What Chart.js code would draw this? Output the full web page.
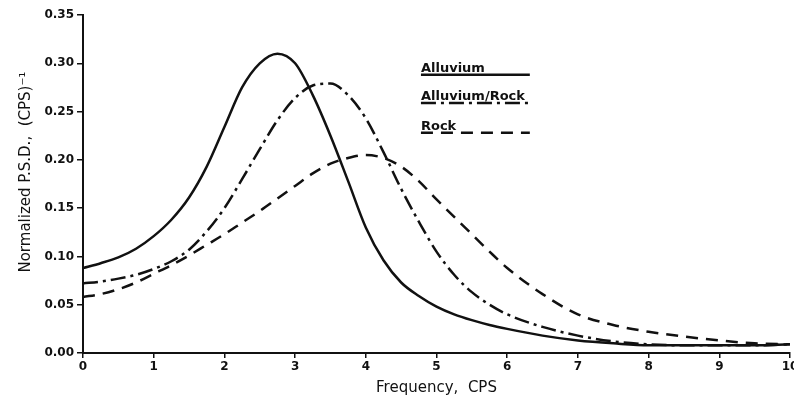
<!DOCTYPE html>
<html>
<head>
<meta charset="utf-8">
<script src="https://cdn.jsdelivr.net/npm/chart.js@4/dist/chart.umd.min.js"></script>
<style>
    html, body { margin: 0; padding: 0; background: #fff; }
</style>
</head>
<body>
<canvas id="psd-chart" width="794" height="400"></canvas>
<script>
// Frequency (CPS) and normalized P.S.D.
const frequency = [0, 0.25, 0.5, 0.75, 1, 1.25, 1.5, 1.75, 2, 2.25, 2.5, 2.75, 3, 3.25, 3.5, 3.75, 4, 4.25, 4.5, 4.75, 5, 5.25, 5.5, 5.75, 6, 6.5, 7, 7.5, 8, 8.5, 9, 9.5, 10];
const alluvium = [0.088, 0.093, 0.099, 0.108, 0.121, 0.138, 0.161, 0.193, 0.234, 0.275, 0.300, 0.310, 0.300, 0.267, 0.225, 0.178, 0.130, 0.096, 0.073, 0.059, 0.048, 0.040, 0.034, 0.029, 0.025, 0.018, 0.013, 0.010, 0.008, 0.008, 0.008, 0.008, 0.009];
const alluviumRock = [0.072, 0.074, 0.077, 0.081, 0.087, 0.095, 0.107, 0.126, 0.150, 0.180, 0.211, 0.241, 0.264, 0.277, 0.279, 0.267, 0.243, 0.208, 0.170, 0.136, 0.105, 0.081, 0.063, 0.050, 0.040, 0.027, 0.018, 0.012, 0.009, 0.008, 0.008, 0.008, 0.009];
const rock = [0.058, 0.061, 0.066, 0.073, 0.082, 0.091, 0.101, 0.112, 0.123, 0.135, 0.147, 0.160, 0.173, 0.186, 0.196, 0.202, 0.205, 0.202, 0.193, 0.178, 0.159, 0.141, 0.123, 0.105, 0.088, 0.061, 0.040, 0.029, 0.022, 0.017, 0.013, 0.010, 0.009];

const seriesNames = ['Alluvium', 'Alluvium/Rock', 'Rock'];
const xTicks = [0, 1, 2, 3, 4, 5, 6, 7, 8, 9, 10];
const yTicks = [0, 0.05, 0.10, 0.15, 0.20, 0.25, 0.30, 0.35];

const INK = '#111';
const dashes = [[], [15, 5, 3, 5], [12, 8]];

function toPoints(values) {
    return values.map((v, i) => ({ x: frequency[i], y: v }));
}

// legend drawn inside the plot, each name sitting on its line sample
const inlineLegend = {
    id: 'inlineLegend',
    afterDatasetsDraw(chart) {
        const ctx = chart.ctx;
        const xs = chart.scales.x;
        const ys = chart.scales.y;
        const x0 = xs.getPixelForValue(4.78);
        const x1 = xs.getPixelForValue(6.32);
        const rows = [0.288, 0.259, 0.228];
        ctx.save();
        ctx.fillStyle = INK;
        ctx.strokeStyle = INK;
        ctx.font = 'bold 13px "DejaVu Sans"';
        ctx.textBaseline = 'alphabetic';
        rows.forEach((v, i) => {
            const y = ys.getPixelForValue(v);
            ctx.fillText(seriesNames[i], x0, y - 3);
            ctx.lineWidth = 2.5;
            ctx.setLineDash(dashes[i]);
            ctx.beginPath();
            ctx.moveTo(x0, y);
            ctx.lineTo(x1, y);
            ctx.stroke();
        });
        ctx.restore();
    }
};

const datasets = [alluvium, alluviumRock, rock].map((values, i) => ({
    label: seriesNames[i],
    data: toPoints(values),
    borderColor: INK,
    borderWidth: 2.5,
    borderDash: dashes[i],
    pointRadius: 0,
    fill: false,
    cubicInterpolationMode: 'monotone'
}));

new Chart(document.getElementById('psd-chart').getContext('2d'), {
    type: 'line',
    data: { datasets: datasets },
    options: {
        responsive: false,
        animation: false,
        layout: { padding: { top: 15, right: 4, left: 0, bottom: 0 } },
        plugins: {
            legend: { display: false },
            tooltip: { enabled: false }
        },
        scales: {
            x: {
                type: 'linear',
                min: 0,
                max: 10,
                afterBuildTicks: scale => { scale.ticks = xTicks.map(v => ({ value: v })); },
                afterFit: scale => {
                    scale.height = 47;
                    scale.paddingLeft = 0;
                    scale.paddingRight = 0;
                },
                border: { display: true, color: INK, width: 2 },
                grid: { drawOnChartArea: false, drawTicks: true, tickLength: 5, color: INK, lineWidth: 1.5 },
                ticks: {
                    color: INK,
                    padding: 2,
                    maxRotation: 0,
                    font: { family: 'DejaVu Sans', size: 12, weight: 'bold' }
                },
                title: {
                    display: true,
                    text: 'Frequency,  CPS',
                    color: INK,
                    padding: { top: 0, bottom: 3 },
                    font: { family: 'DejaVu Sans', size: 15 }
                }
            },
            y: {
                min: 0,
                max: 0.35,
                afterBuildTicks: scale => { scale.ticks = yTicks.map(v => ({ value: v })); },
                afterFit: scale => { scale.width = 83; },
                border: { display: true, color: INK, width: 2 },
                grid: { drawOnChartArea: false, drawTicks: true, tickLength: 6, color: INK, lineWidth: 1.5 },
                ticks: {
                    color: INK,
                    padding: 3,
                    callback: v => v.toFixed(2),
                    font: { family: 'DejaVu Sans', size: 12, weight: 'bold' }
                },
                title: {
                    display: true,
                    text: '     Normalized P.S.D.,  (CPS)\u207B\u00B9',
                    color: INK,
                    padding: { top: 17, bottom: 0 },
                    font: { family: 'DejaVu Sans', size: 15 }
                }
            }
        }
    },
    plugins: [inlineLegend]
});
</script>
</body>
</html>
